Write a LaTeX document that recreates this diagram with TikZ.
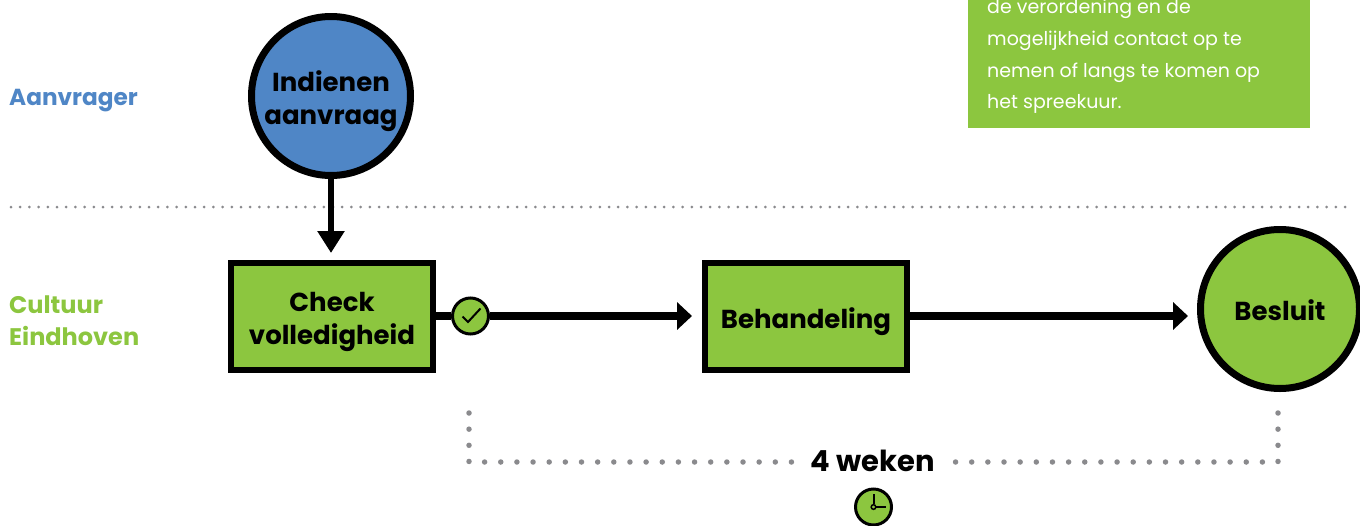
\documentclass[tikz,border=0pt]{standalone}
\usepackage{fontspec}
\setmainfont{Poppins}
\usetikzlibrary{arrows.meta}
\definecolor{cgreen}{HTML}{8CC63F}
\definecolor{cblue}{HTML}{4F86C6}
\definecolor{cdot}{HTML}{8A8A8D}
\tikzset{
  x=1pt,y=-1pt,
  flow/.style={line width=6pt,draw=black,-{Triangle[length=22pt,width=26pt]}},
  flowwide/.style={line width=7.5pt,draw=black,-{Triangle[length=15pt,width=27pt]}},
  flowplain/.style={line width=7.5pt,draw=black},
  stepbox/.style={draw=black,line width=6pt,fill=cgreen,minimum width=202pt,minimum height=107pt,inner sep=0pt},
  bigcircle/.style={circle,draw=black,line width=7pt,minimum size=159pt,inner sep=0pt},
  shapetext/.style={inner sep=0pt,align=center,text=black,font=\fontsize{26}{33}\selectfont\bfseries},
  lane/.style={anchor=west,align=left,inner sep=0pt,font=\fontsize{24}{32}\selectfont\bfseries},
  badge/.style={circle,draw=black,line width=3pt,fill=cgreen,minimum size=36pt,inner sep=0pt},
  finedots/.style={draw=cdot,line width=3pt,line cap=round,dash pattern=on 0pt off 9.2pt},
  coarsedots/.style={draw=cdot,line width=5.5pt,line cap=round,dash pattern=on 0pt off 16.15pt},
  notetext/.style={anchor=base west,inner sep=0pt,text=white,font=\fontsize{19}{24}\selectfont},
}
\begin{document}
\begin{tikzpicture}
\useasboundingbox (0,0) rectangle (1360,525);
\clip (0,0) rectangle (1360,525);
% divider
\coordinate (divL) at (11,207);
\coordinate (divR) at (1352,207);
\draw[finedots] (divL) -- (divR);
% note
\fill[cgreen] (968,-10) rectangle (1310,128);
\node[notetext] (n1) at (987,13.5) {de verordening en de};
\node[notetext] (n2) at (987,45) {mogelijkheid contact op te};
\node[notetext] (n3) at (987,77) {nemen of langs te komen op};
\node[notetext] (n4) at (987,108.5) {het spreekuur.};
% lanes
\node[lane,text=cblue,font=\fontsize{23.2}{32}\selectfont\bfseries] (aanv) at (9,101) {Aanvrager};
\node[lane,text=cgreen] (cult) at (9,320.5) {Cultuur\\Eindhoven};
% nodes
\node[bigcircle,fill=cblue] (ind) at (331,96) {};
\node[shapetext] (indT) at ([yshift=-5.5pt]ind.center) {Indienen\\aanvraag};
\node[stepbox] (chk) at (332,316.5) {};
\node[shapetext] (chkT) at ([yshift=-5.5pt]chk.center) {Check\\volledigheid};
\node[stepbox] (beh) at (806,316.5) {};
\node[shapetext] (behT) at ([yshift=-5pt]beh.center) {Behandeling};
\node[bigcircle,fill=cgreen] (bes) at (1280,309) {};
\node[shapetext] (besT) at ([yshift=-1pt]bes.center) {Besluit};
% connectors
\draw[flow,shorten >=7pt] (ind.south) -- (ind.south |- chk.north);
\node[badge] (ok) at (470.5,316) {};
\draw[flowplain] (chk.east |- ok.west) -- (ok.west);
\draw[flowwide,shorten >=10pt] (ok.east) -- (ok.east -| beh.west);
\draw[flowwide,shorten >=9pt] (beh.east |- ok.east) -- (ok.east -| bes.west);
% check mark
\draw[line width=2pt,black] (462.5,316.5) -- (468,322) -- (480.5,308.5);
% bottom bracket
\coordinate (bl0) at (469,413);
\coordinate (bl1) at (469,462);
\coordinate (br0) at (1278,413);
\coordinate (br1) at (1278,462);
\node[inner sep=0pt,font=\fontsize{29}{34}\selectfont\bfseries,text=black] (wk) at (873,460.5) {4 weken};
\draw[coarsedots] (bl0) -- (bl1) -- (796,462);
\draw[coarsedots] (br0) -- (br1) -- (951,462);
% clock
\node[badge] (clk) at (873.5,507) {};
\draw[line width=2pt,black] (873.5,504) -- (873.5,494);
\draw[line width=2pt,black] (876,507) -- (886,507);
\draw[line width=1.5pt,black] (873.5,507) circle (2.3);
\end{tikzpicture}
\end{document}
